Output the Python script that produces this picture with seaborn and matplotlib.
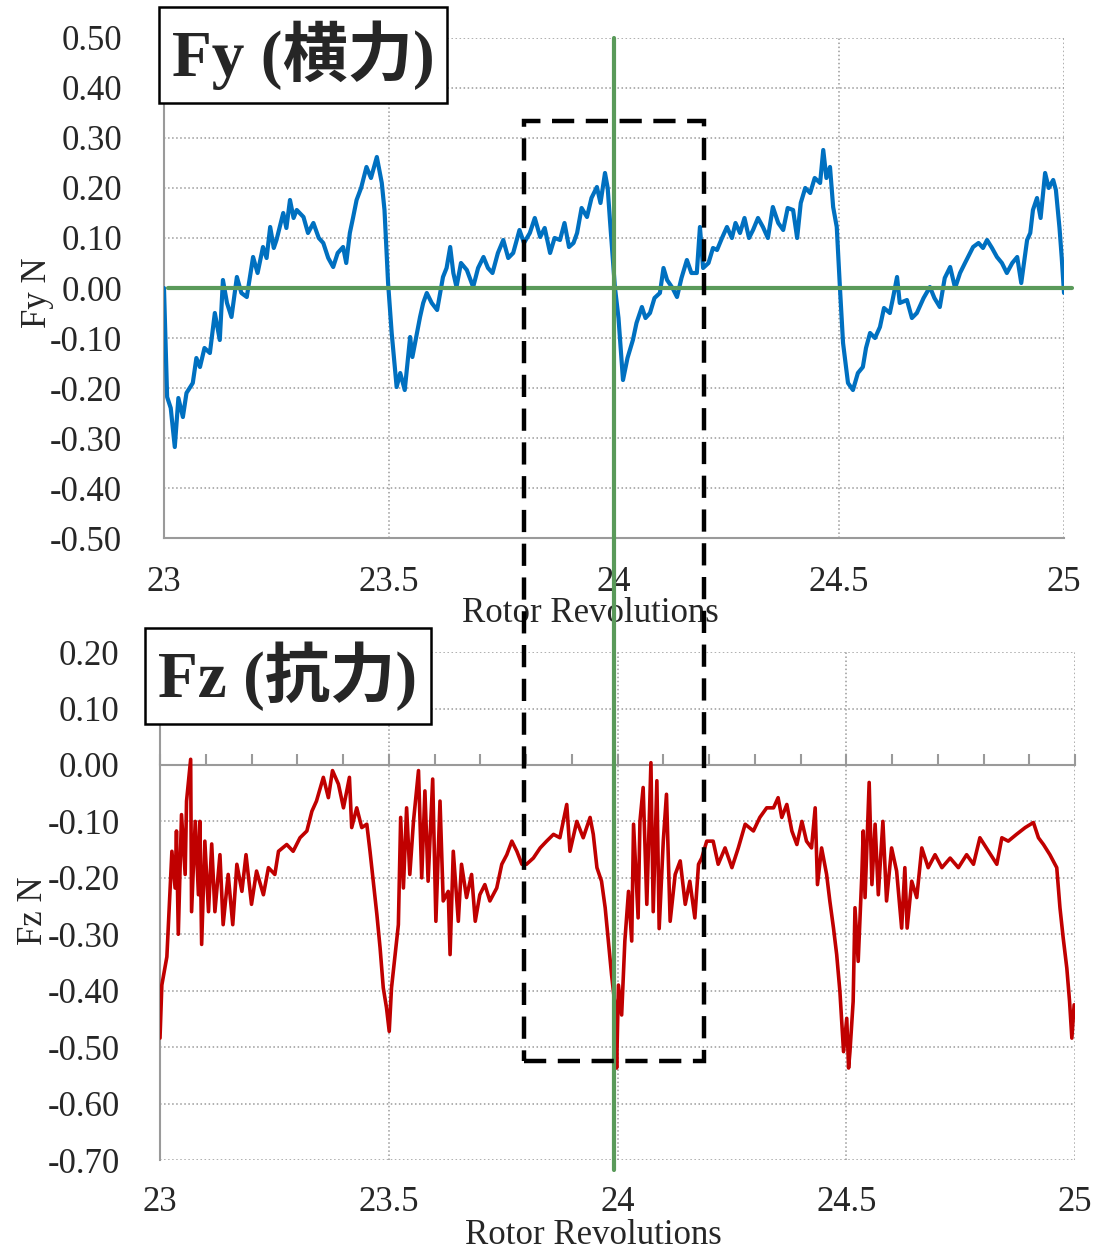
import numpy as np
import pandas as pd
import matplotlib
matplotlib.use("Agg")
import matplotlib.pyplot as plt
from matplotlib.lines import Line2D
from matplotlib.patches import Rectangle
import seaborn as sns

# ---- data (rotor revolutions vs force) ----
fy_x = [23.000, 23.007, 23.015, 23.024, 23.032, 23.042, 23.050, 23.064, 23.072, 23.080,
        23.090, 23.102, 23.113, 23.124, 23.131, 23.140, 23.150, 23.162, 23.172, 23.184,
        23.198, 23.208, 23.220, 23.228, 23.236, 23.244, 23.250, 23.265, 23.272, 23.280,
        23.288, 23.295, 23.310, 23.320, 23.332, 23.344, 23.354, 23.365, 23.376, 23.386,
        23.398, 23.405, 23.413, 23.420, 23.428, 23.438, 23.450, 23.460, 23.473, 23.484,
        23.490, 23.498, 23.506, 23.517, 23.525, 23.535, 23.547, 23.552, 23.569, 23.576,
        23.584, 23.595, 23.607, 23.620, 23.628, 23.636, 23.643, 23.650, 23.660, 23.673,
        23.687, 23.698, 23.710, 23.720, 23.730, 23.742, 23.754, 23.765, 23.776, 23.790,
        23.800, 23.813, 23.824, 23.836, 23.846, 23.858, 23.868, 23.880, 23.890, 23.900,
        23.910, 23.918, 23.928, 23.940, 23.950, 23.962, 23.970, 23.980, 23.986, 23.991,
        24.002, 24.010, 24.020, 24.030, 24.042, 24.050, 24.062, 24.070, 24.080, 24.090,
        24.102, 24.110, 24.118, 24.130, 24.140, 24.150, 24.162, 24.172, 24.184, 24.191,
        24.198, 24.210, 24.220, 24.229, 24.240, 24.251, 24.262, 24.270, 24.280, 24.290,
        24.300, 24.309, 24.320, 24.331, 24.342, 24.353, 24.365, 24.376, 24.386, 24.398,
        24.407, 24.415, 24.425, 24.436, 24.446, 24.458, 24.465, 24.472, 24.480, 24.487,
        24.495, 24.502, 24.509, 24.520, 24.531, 24.542, 24.553, 24.560, 24.569, 24.580,
        24.591, 24.600, 24.613, 24.620, 24.629, 24.635, 24.651, 24.662, 24.673, 24.688,
        24.702, 24.712, 24.724, 24.735, 24.747, 24.758, 24.769, 24.780, 24.798, 24.810,
        24.820, 24.829, 24.840, 24.851, 24.862, 24.873, 24.885, 24.896, 24.905, 24.918,
        24.925, 24.931, 24.940, 24.948, 24.958, 24.966, 24.976, 24.982, 24.990, 24.995,
        25.000]
fy_vals = [0.000, -0.218, -0.240, -0.318, -0.220, -0.258, -0.210, -0.190, -0.140, -0.158,
           -0.120, -0.130, -0.050, -0.104, 0.016, -0.030, -0.058, 0.022, -0.010, -0.018,
           0.062, 0.030, 0.082, 0.060, 0.122, 0.080, 0.096, 0.150, 0.120, 0.176,
           0.140, 0.156, 0.142, 0.110, 0.130, 0.100, 0.090, 0.060, 0.042, 0.070,
           0.082, 0.050, 0.110, 0.140, 0.176, 0.200, 0.242, 0.220, 0.262, 0.210,
           0.156, 0.010, -0.090, -0.198, -0.170, -0.204, -0.098, -0.138, -0.058, -0.030,
           -0.010, -0.030, -0.044, 0.022, 0.040, 0.082, 0.030, 0.002, 0.050, 0.036,
           0.002, 0.040, 0.062, 0.040, 0.030, 0.070, 0.096, 0.060, 0.070, 0.116,
           0.090, 0.110, 0.140, 0.102, 0.120, 0.070, 0.100, 0.096, 0.130, 0.082,
           0.090, 0.110, 0.160, 0.142, 0.180, 0.202, 0.170, 0.230, 0.200, 0.136,
           0.002, -0.060, -0.184, -0.140, -0.104, -0.070, -0.038, -0.060, -0.050, -0.020,
           -0.010, 0.040, 0.016, 0.000, -0.018, 0.020, 0.056, 0.030, 0.030, 0.122,
           0.040, 0.050, 0.080, 0.076, 0.100, 0.122, 0.100, 0.130, 0.110, 0.140,
           0.100, 0.116, 0.140, 0.122, 0.100, 0.162, 0.130, 0.116, 0.160, 0.156,
           0.100, 0.170, 0.200, 0.190, 0.220, 0.210, 0.276, 0.220, 0.242, 0.162,
           0.122, 0.002, -0.110, -0.190, -0.204, -0.170, -0.158, -0.120, -0.090, -0.100,
           -0.078, -0.040, -0.050, -0.020, 0.022, -0.030, -0.024, -0.060, -0.050, -0.020,
           0.002, -0.020, -0.038, 0.020, 0.042, 0.000, 0.030, 0.050, 0.082, 0.090,
           0.080, 0.096, 0.080, 0.062, 0.050, 0.030, 0.050, 0.062, 0.010, 0.096,
           0.110, 0.156, 0.180, 0.140, 0.230, 0.200, 0.216, 0.196, 0.120, 0.060,
           -0.010]

fz_x = [23.000, 23.004, 23.015, 23.018, 23.026, 23.033, 23.036, 23.040, 23.047, 23.055,
        23.058, 23.067, 23.069, 23.077, 23.084, 23.087, 23.091, 23.098, 23.106, 23.113,
        23.120, 23.131, 23.138, 23.149, 23.159, 23.168, 23.179, 23.188, 23.200, 23.211,
        23.226, 23.237, 23.251, 23.259, 23.277, 23.291, 23.306, 23.321, 23.332, 23.342,
        23.357, 23.368, 23.377, 23.390, 23.401, 23.414, 23.419, 23.430, 23.441, 23.452,
        23.459, 23.466, 23.474, 23.481, 23.488, 23.495, 23.501, 23.506, 23.514, 23.521,
        23.526, 23.532, 23.539, 23.546, 23.554, 23.565, 23.572, 23.579, 23.586, 23.596,
        23.603, 23.612, 23.619, 23.630, 23.634, 23.641, 23.652, 23.659, 23.670, 23.681,
        23.689, 23.699, 23.710, 23.721, 23.736, 23.747, 23.758, 23.769, 23.780, 23.791,
        23.801, 23.816, 23.831, 23.845, 23.860, 23.874, 23.889, 23.896, 23.911, 23.925,
        23.940, 23.947, 23.955, 23.965, 23.973, 23.980, 23.987, 23.995, 23.998, 24.002,
        24.009, 24.016, 24.024, 24.031, 24.035, 24.045, 24.049, 24.056, 24.064, 24.073,
        24.078, 24.086, 24.091, 24.100, 24.107, 24.115, 24.126, 24.137, 24.148, 24.158,
        24.169, 24.177, 24.184, 24.195, 24.209, 24.220, 24.235, 24.250, 24.264, 24.279,
        24.297, 24.311, 24.326, 24.341, 24.351, 24.359, 24.370, 24.381, 24.392, 24.403,
        24.413, 24.424, 24.432, 24.437, 24.446, 24.457, 24.464, 24.472, 24.479, 24.486,
        24.494, 24.501, 24.505, 24.508, 24.515, 24.519, 24.526, 24.534, 24.537, 24.541,
        24.550, 24.556, 24.563, 24.570, 24.580, 24.588, 24.599, 24.610, 24.621, 24.628,
        24.633, 24.643, 24.654, 24.665, 24.679, 24.694, 24.709, 24.727, 24.745, 24.763,
        24.778, 24.792, 24.811, 24.829, 24.840, 24.854, 24.872, 24.891, 24.909, 24.920,
        24.931, 24.945, 24.960, 24.967, 24.974, 24.982, 24.988, 24.993, 24.998]
fz_vals = [-0.484, -0.390, -0.340, -0.290, -0.153, -0.218, -0.117, -0.300, -0.088, -0.194,
           -0.064, 0.010, -0.260, -0.100, -0.230, -0.100, -0.318, -0.135, -0.260, -0.140,
           -0.260, -0.159, -0.283, -0.194, -0.283, -0.176, -0.224, -0.159, -0.247, -0.188,
           -0.230, -0.182, -0.194, -0.153, -0.141, -0.153, -0.129, -0.117, -0.082, -0.064,
           -0.022, -0.058, -0.010, -0.034, -0.076, -0.022, -0.111, -0.076, -0.111, -0.105,
           -0.153, -0.206, -0.265, -0.324, -0.395, -0.430, -0.472, -0.395, -0.336, -0.283,
           -0.093, -0.218, -0.076, -0.194, -0.100, -0.010, -0.200, -0.046, -0.206, -0.025,
           -0.277, -0.064, -0.241, -0.224, -0.336, -0.153, -0.277, -0.176, -0.235, -0.194,
           -0.277, -0.230, -0.212, -0.241, -0.218, -0.176, -0.159, -0.135, -0.153, -0.176,
           -0.176, -0.165, -0.147, -0.135, -0.123, -0.129, -0.070, -0.153, -0.100, -0.129,
           -0.093, -0.123, -0.182, -0.206, -0.253, -0.312, -0.372, -0.430, -0.537, -0.390,
           -0.443, -0.312, -0.224, -0.312, -0.105, -0.271, -0.100, -0.040, -0.247, 0.004,
           -0.260, -0.028, -0.290, -0.135, -0.052, -0.277, -0.194, -0.170, -0.247, -0.206,
           -0.271, -0.176, -0.165, -0.135, -0.135, -0.176, -0.147, -0.182, -0.147, -0.105,
           -0.117, -0.093, -0.076, -0.076, -0.058, -0.093, -0.070, -0.117, -0.141, -0.100,
           -0.135, -0.147, -0.076, -0.212, -0.147, -0.194, -0.241, -0.289, -0.336, -0.401,
           -0.508, -0.449, -0.537, -0.508, -0.419, -0.253, -0.348, -0.194, -0.117, -0.235,
           -0.031, -0.212, -0.105, -0.230, -0.100, -0.241, -0.147, -0.188, -0.289, -0.182,
           -0.289, -0.206, -0.235, -0.147, -0.182, -0.159, -0.182, -0.165, -0.182, -0.159,
           -0.176, -0.129, -0.153, -0.176, -0.129, -0.135, -0.123, -0.111, -0.102, -0.129,
           -0.141, -0.159, -0.182, -0.253, -0.306, -0.360, -0.419, -0.484, -0.425]

x_ticks = [23, 23.5, 24, 24.5, 25]
x_labels = ["23", "23.5", "24", "24.5", "25"]
fy_ticks = [-0.5, -0.4, -0.3, -0.2, -0.1, 0.0, 0.1, 0.2, 0.3, 0.4, 0.5]
fz_ticks = [-0.7, -0.6, -0.5, -0.4, -0.3, -0.2, -0.1, 0.0, 0.1, 0.2]

sns.set_theme(style="white")
plt.rcParams["font.family"] = ["Liberation Serif", "Noto Sans CJK JP"]
plt.rcParams["axes.unicode_minus"] = False

BLUE = "#0070C0"
RED = "#C00000"
GREEN = "#5A9A5A"
GRAY = "#9a9a9a"
FS = 25

fig = plt.figure(figsize=(11.05, 12.53), dpi=100)
ax1 = fig.add_axes([0.1484, 0.5706, 0.8145, 0.3991])
ax2 = fig.add_axes([0.1448, 0.0742, 0.8281, 0.4054])

df_fy = pd.DataFrame({"rev": fy_x, "Fy": fy_vals})
df_fz = pd.DataFrame({"rev": fz_x, "Fz": fz_vals})

# ---- top: Fy ----
sns.lineplot(data=df_fy, x="rev", y="Fy", ax=ax1, color=BLUE, lw=3.0,
             estimator=None, sort=False, zorder=3)
ax1.axhline(0, xmin=0.004, xmax=1.009, color=GREEN, lw=3, zorder=4, clip_on=False)
ax1.set_xlim(23, 25)
ax1.set_ylim(-0.5, 0.5)
ax1.set_yticks(fy_ticks)
ax1.set_yticklabels([f"{v:.2f}" for v in fy_ticks])
ax1.set_xticks(x_ticks)
ax1.set_xticklabels(x_labels)
ax1.grid(True, linestyle=":", color=GRAY, lw=1.1)
for s in ["top", "right"]:
    ax1.spines[s].set_visible(False)
for s in ["left", "bottom"]:
    ax1.spines[s].set_color(GRAY)
    ax1.spines[s].set_linewidth(1.5)
ax1.tick_params(axis="y", direction="in", length=7, color=GRAY, pad=30, labelsize=FS)
ax1.tick_params(axis="x", length=0, pad=20, labelsize=FS)
ax1.set_xlabel("Rotor Revolutions", fontsize=FS)
ax1.xaxis.set_label_coords(0.474, -0.118)
ax1.set_ylabel("Fy N", fontsize=FS)
ax1.yaxis.set_label_coords(-0.122, 0.49)

# ---- bottom: Fz ----
sns.lineplot(data=df_fz, x="rev", y="Fz", ax=ax2, color=RED, lw=2.6,
             estimator=None, sort=False, zorder=3)
ax2.set_xlim(23, 25)
ax2.set_ylim(-0.7, 0.2)
ax2.set_yticks(fz_ticks)
ax2.set_yticklabels([f"{v:.2f}" for v in fz_ticks])
ax2.set_xticks(x_ticks)
ax2.set_xticks(np.arange(23, 25.01, 0.1), minor=True)
ax2.grid(True, which="major", linestyle=":", color=GRAY, lw=1.1)
for s in ["top", "right"]:
    ax2.spines[s].set_visible(False)
ax2.spines["left"].set_color(GRAY)
ax2.spines["left"].set_linewidth(1.5)
ax2.spines["bottom"].set_position(("data", 0))
ax2.spines["bottom"].set_color(GRAY)
ax2.spines["bottom"].set_linewidth(1.5)
ax2.tick_params(axis="x", which="both", direction="in", length=8, width=1.5,
                color=GRAY, labelbottom=False, bottom=True)
ax2.tick_params(axis="y", direction="in", length=7, color=GRAY, pad=29, labelsize=FS)
sec = ax2.secondary_xaxis(0)
sec.set_xticks(x_ticks)
sec.set_xticklabels(x_labels)
sec.tick_params(length=0, pad=19, labelsize=FS)
sec.spines["bottom"].set_visible(False)
ax2.set_xlabel("Rotor Revolutions", fontsize=FS)
ax2.xaxis.set_label_coords(0.474, -0.116)
ax2.set_ylabel("Fz N", fontsize=FS)
ax2.yaxis.set_label_coords(-0.12, 0.49)

# ---- overlays spanning both panels ----
inv = fig.transFigure.inverted()
gx, gy_top = inv.transform(ax1.transData.transform((24, 0.5)))
_, gy_bot = inv.transform(ax2.transData.transform((24, -0.718)))
fig.add_artist(Line2D([gx, gx], [gy_bot, gy_top], transform=fig.transFigure,
                      color=GREEN, lw=3, zorder=5))

rx0, ry1 = inv.transform(ax1.transData.transform((23.8, 0.333)))
rx1, _ = inv.transform(ax1.transData.transform((24.2, 0.333)))
_, ry0 = inv.transform(ax2.transData.transform((24.19, -0.525)))
fig.add_artist(Rectangle((rx0, ry0), rx1 - rx0, ry1 - ry0, transform=fig.transFigure,
                         fill=False, ec="black", lw=3.2, ls=(0, (5, 2.6)), zorder=6))

box = dict(boxstyle="square,pad=0.2", fc="white", ec="black", lw=1.8)
fig.text(0.2742, 0.9561, "Fy (横力)", fontsize=47, fontweight="bold",
         ha="center", va="center", bbox=box, zorder=7)
fig.text(0.2606, 0.4605, "Fz (抗力)", fontsize=47, fontweight="bold",
         ha="center", va="center", bbox=box, zorder=7)

fig.savefig("out.png", dpi=100, facecolor="white")
